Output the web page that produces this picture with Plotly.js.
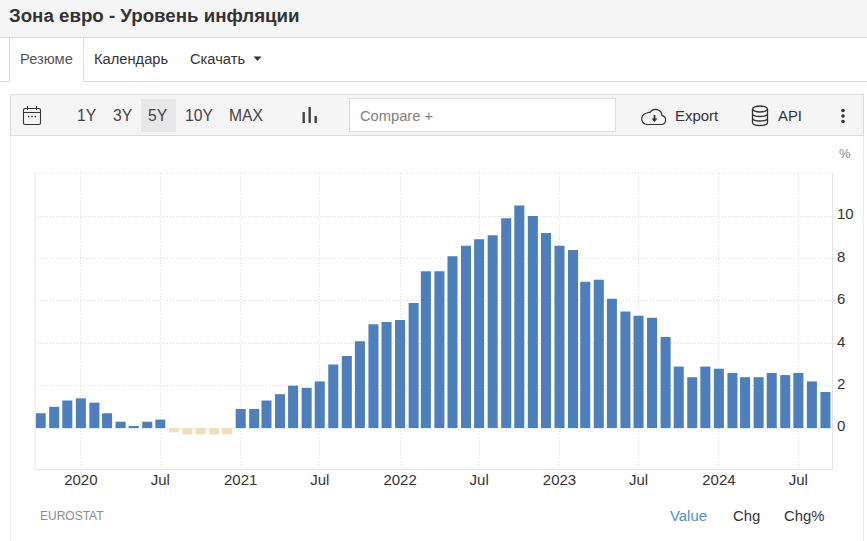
<!DOCTYPE html>
<html><head><meta charset="utf-8">
<script src="https://cdn.plot.ly/plotly-3.0.1.min.js"></script>
<style>
html,body{margin:0;padding:0;background:#fff;width:867px;height:541px;overflow:hidden;font-family:"Liberation Sans",Arial,sans-serif;color:#333}
.a{position:absolute;white-space:nowrap}
.box{position:absolute;box-sizing:border-box}
#chart{position:absolute;left:0;top:0;width:867px;height:541px}
.t{position:absolute;white-space:nowrap;transform:translateY(-50%);line-height:1}
</style></head><body>
<div id="chart"></div>
<div class="box" style="left:0;top:0;width:867px;height:38px;background:#f5f5f5;border-bottom:1px solid #d8d8d8"></div>
<div class="t" style="left:9px;top:16px;font-size:18.7px;font-weight:bold;color:#333">Зона евро - Уровень инфляции</div>
<div class="box" style="left:0;top:81px;width:867px;height:1px;background:#d8d8d8"></div>
<div class="box" style="left:9px;top:38px;width:75px;height:44px;background:#fff;border-left:1px solid #ddd;border-right:1px solid #ddd"></div>
<div class="t" style="left:20px;top:59px;font-size:14.7px;color:#555">Резюме</div>
<div class="t" style="left:94px;top:59px;font-size:14.7px;color:#333">Календарь</div>
<div class="t" style="left:190px;top:59px;font-size:14.7px;color:#333">Скачать</div>
<svg class="a" style="left:253px;top:56px" width="10" height="6"><path d="M0.5 0.5H8.5L4.5 5Z" fill="#333"/></svg>
<div class="box" style="left:10px;top:135px;width:854px;height:406px;border-left:1px solid #eee;border-right:1px solid #eee"></div>
<div class="box" style="left:10px;top:94px;width:854px;height:42px;background:#f5f5f5;border:1px solid #ddd"></div>
<svg class="a" style="left:22px;top:105px" width="20" height="22" fill="none" stroke="#333" stroke-width="1.1"><rect x="1.5" y="3.5" width="17" height="16" rx="1.5"/><path d="M1.5 7.5H18.5M5.5 1V5M14.5 1V5"/><path d="M6 11.5h1.4M9.3 11.5h1.4M12.6 11.5h1.4" stroke-width="1.3"/></svg>
<div class="t" style="left:77px;top:116px;font-size:15.7px;color:#444">1Y</div>
<div class="t" style="left:113px;top:116px;font-size:15.7px;color:#444">3Y</div>
<div class="box" style="left:141px;top:99px;width:35px;height:33px;background:#e8e8e8"></div>
<div class="t" style="left:148px;top:116px;font-size:15.7px;color:#444">5Y</div>
<div class="t" style="left:185px;top:116px;font-size:15.7px;color:#444">10Y</div>
<div class="t" style="left:229px;top:116px;font-size:15.7px;color:#444">MAX</div>
<svg class="a" style="left:302px;top:106px" width="16" height="18" fill="#444"><rect x="0.5" y="6" width="2.4" height="11"/><rect x="6.5" y="1" width="2.4" height="16"/><rect x="12.5" y="10" width="2.4" height="7"/></svg>
<div class="box" style="left:349px;top:98px;width:267px;height:34px;background:#fff;border:1px solid #ddd"></div>
<div class="t" style="left:360px;top:116px;font-size:14.7px;color:#808080">Compare +</div>
<svg class="a" style="left:641px;top:105px" width="26" height="22" fill="none" stroke="#333" stroke-width="1.2"><path d="M7 19.5H20a4.5 4.5 0 0 0 1-8.9A6.5 6.5 0 0 0 9 7.5a4 4 0 0 0-3 0.5A5.7 5.7 0 0 0 7 19.5Z"/><path d="M13.5 10V15.5" stroke-width="1.8"/><path d="M10.5 13.5H16.5L13.5 17Z" fill="#333" stroke="none"/></svg>
<div class="t" style="left:675px;top:116px;font-size:14.9px;color:#333">Export</div>
<svg class="a" style="left:751px;top:105px" width="18" height="22" fill="none" stroke="#333" stroke-width="1.3"><ellipse cx="9" cy="4" rx="7.5" ry="3"/><path d="M1.5 4V17.5C1.5 19.5 5 20.5 9 20.5S16.5 19.5 16.5 17.5V4M1.5 8.5C1.5 10.5 5 11.5 9 11.5S16.5 10.5 16.5 8.5M1.5 13C1.5 15 5 16 9 16S16.5 15 16.5 13"/></svg>
<div class="t" style="left:778px;top:116px;font-size:14.9px;color:#333">API</div>
<svg class="a" style="left:840px;top:108px" width="6" height="16" fill="#333"><circle cx="3" cy="2.5" r="1.8"/><circle cx="3" cy="8" r="1.8"/><circle cx="3" cy="13.5" r="1.8"/></svg>
<div class="t" style="left:839px;top:153px;font-size:13px;color:#888">%</div>
<div class="t" style="left:40px;top:516px;font-size:12px;color:#8c8c8c">EUROSTAT</div>
<div class="t" style="left:670px;top:516px;font-size:14.9px;color:#4f8fc7">Value</div>
<div class="t" style="left:733px;top:516px;font-size:14.9px;color:#333">Chg</div>
<div class="t" style="left:784px;top:516px;font-size:14.9px;color:#333">Chg%</div>
<script>
const months = [
"2019-10-01","2019-11-01","2019-12-01",
"2020-01-01","2020-02-01","2020-03-01","2020-04-01","2020-05-01","2020-06-01","2020-07-01","2020-08-01","2020-09-01","2020-10-01","2020-11-01","2020-12-01",
"2021-01-01","2021-02-01","2021-03-01","2021-04-01","2021-05-01","2021-06-01","2021-07-01","2021-08-01","2021-09-01","2021-10-01","2021-11-01","2021-12-01",
"2022-01-01","2022-02-01","2022-03-01","2022-04-01","2022-05-01","2022-06-01","2022-07-01","2022-08-01","2022-09-01","2022-10-01","2022-11-01","2022-12-01",
"2023-01-01","2023-02-01","2023-03-01","2023-04-01","2023-05-01","2023-06-01","2023-07-01","2023-08-01","2023-09-01","2023-10-01","2023-11-01","2023-12-01",
"2024-01-01","2024-02-01","2024-03-01","2024-04-01","2024-05-01","2024-06-01","2024-07-01","2024-08-01","2024-09-01"];
const inflation = [
0.7,1.0,1.3,
1.4,1.2,0.7,0.3,0.1,0.3,0.4,-0.2,-0.3,-0.3,-0.3,-0.3,
0.9,0.9,1.3,1.6,2.0,1.9,2.2,3.0,3.4,4.1,4.9,5.0,
5.1,5.9,7.4,7.4,8.1,8.6,8.9,9.1,9.9,10.5,10.0,9.2,
8.6,8.4,6.9,7.0,6.1,5.5,5.3,5.2,4.3,2.9,2.4,2.9,
2.8,2.6,2.4,2.4,2.6,2.5,2.6,2.2,1.7];
const xTickDates = ["2020-01-01","2020-07-01","2021-01-01","2021-07-01","2022-01-01","2022-07-01","2023-01-01","2023-07-01","2024-01-01","2024-07-01"];
const xTickLabels = ["2020","Jul","2021","Jul","2022","Jul","2023","Jul","2024","Jul"];
const yTicks = [0,2,4,6,8,10];
const posColor = "#4e7fbb", negColor = "#f0dfb8";
const barWidthMs = 23*24*3600*1000;
const gridDash = "1px,2px";
Plotly.newPlot("chart",[{
  type:"bar", x:months, y:inflation, width:months.map(()=>barWidthMs),
  marker:{color:inflation.map(v=>v<0?negColor:posColor), line:{width:0}},
  hoverinfo:"x+y"
}],{
  width:867,height:541,showlegend:false,
  paper_bgcolor:"rgba(0,0,0,0)",plot_bgcolor:"#fff",
  margin:{l:35,r:35,t:173,b:72,pad:0},
  font:{family:'"Liberation Sans",Arial,sans-serif',size:15,color:"#333"},
  xaxis:{type:"date",range:["2019-09-18","2024-09-16"],tickmode:"array",tickvals:xTickDates,ticktext:xTickLabels,
    tickangle:0,showgrid:true,gridcolor:"#dcdcdc",griddash:gridDash,gridwidth:1,zeroline:false,ticks:"",ticklen:0,
    ticklabelstandoff:-3,
    showline:true,linecolor:"#e4e4e4",linewidth:1,mirror:false,tickfont:{size:15,color:"#333"},fixedrange:true},
  yaxis:{side:"right",range:[-1.93,12.03],tickmode:"array",tickvals:yTicks,ticktext:yTicks.map(String),
    showgrid:true,gridcolor:"#dcdcdc",griddash:gridDash,gridwidth:1,zeroline:false,ticks:"outside",ticklen:3,tickcolor:"#e4e4e4",
    ticklabelshift:-2,ticklabelstandoff:-2,
    showline:true,linecolor:"#e4e4e4",linewidth:1,tickfont:{size:15,color:"#333"},fixedrange:true},
  shapes:[
   {type:"line",xref:"paper",yref:"paper",x0:0,x1:1,y0:1,y1:1,line:{color:"#dcdcdc",width:1,dash:gridDash}},
   {type:"line",xref:"paper",yref:"paper",x0:0,x1:0,y0:0,y1:1,line:{color:"#e8e8e8",width:1}}
  ]
},{displayModeBar:false,staticPlot:true});
</script>
</body></html>
